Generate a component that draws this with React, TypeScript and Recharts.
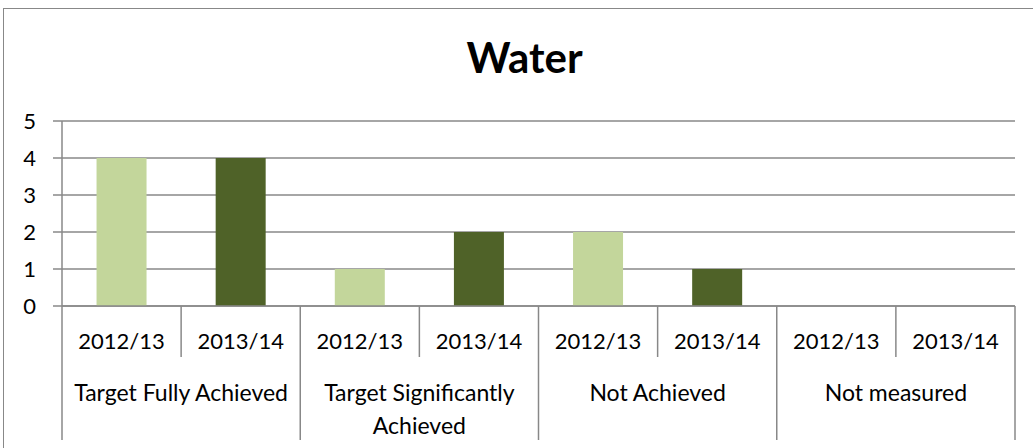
import { Bar, BarChart, CartesianGrid, Cell, XAxis, YAxis } from "recharts";

// group labels as the lines they are drawn in
const GROUP_LINES = [
  ["Target Fully Achieved"],
  ["Target Significantly", "Achieved"],
  ["Not Achieved"],
  ["Not measured"],
];
const YEARS = ["2012/13", "2013/14"];
const VALUES_2012 = [4, 1, 2, 0];
const VALUES_2013 = [4, 2, 1, 0];
const Y_TICKS = [0, 1, 2, 3, 4, 5];

const YEAR_COLORS = ["#c3d69b", "#4f6228"];
const AXIS_GREY = "#888888";
const FONT = "Lato, 'Open Sans', sans-serif";

const W = 1033;
const H = 448;
const MARGIN = { top: 121, right: 18, bottom: 0, left: 0 };
const Y_AXIS_W = 62;
const X_AXIS_H = 142;

const data = GROUP_LINES.flatMap((lines, g) =>
  YEARS.map((year, y) => ({
    id: g * 2 + y,
    lines,
    year,
    value: y === 0 ? VALUES_2012[g] : VALUES_2013[g],
  }))
);

const BAND = (W - MARGIN.left - MARGIN.right - Y_AXIS_W) / data.length;

// two-row category axis: year under each bar, group label under each pair
function CategoryTick(props: any) {
  const { x, y, index } = props;
  const row = data[index];
  if (!row) return null;
  const left = x - BAND / 2;
  const groupStart = index % 2 === 0;
  const isLast = index === data.length - 1;
  return (
    <g>
      <line
        x1={left}
        x2={left}
        y1={y}
        y2={y + (groupStart ? 134 : 51)}
        stroke={AXIS_GREY}
        strokeWidth={1.5}
      />
      {isLast && (
        <line
          x1={x + BAND / 2}
          x2={x + BAND / 2}
          y1={y}
          y2={y + 134}
          stroke={AXIS_GREY}
          strokeWidth={1.5}
        />
      )}
      <text
        x={x}
        y={y + 34}
        textAnchor="middle"
        dominantBaseline="central"
        fontSize={22}
        fontFamily={FONT}
        fill="#000"
      >
        {row.year}
      </text>
      {groupStart &&
        row.lines.map((line, i) => (
          <text
            key={i}
            x={x + BAND / 2}
            y={y + 86 + i * 33}
            textAnchor="middle"
            dominantBaseline="central"
            fontSize={23}
            fontFamily={FONT}
            fill="#000"
          >
            {line}
          </text>
        ))}
    </g>
  );
}

export default function App() {
  return (
    <div
      style={{
        position: "absolute",
        left: 0,
        top: 0,
        width: W,
        height: H,
        overflow: "hidden",
        background: "#fff",
      }}
    >
      <div
        style={{
          position: "absolute",
          left: 3,
          top: 8,
          width: W + 10,
          height: H + 10,
          border: `1px solid ${AXIS_GREY}`,
        }}
      />
      <div
        style={{
          position: "absolute",
          left: 0,
          width: W + 16,
          top: 32,
          textAlign: "center",
          fontFamily: FONT,
          fontWeight: 700,
          fontSize: 42,
          lineHeight: "50px",
        }}
      >
        Water
      </div>
      <BarChart
        width={W}
        height={H}
        data={data}
        margin={MARGIN}
        barCategoryGap="29%"
        style={{ position: "absolute", left: 0, top: 0 }}
      >
        <CartesianGrid
          vertical={false}
          stroke={AXIS_GREY}
          strokeWidth={1.5}
        />
        <XAxis
          dataKey="id"
          height={X_AXIS_H}
          tickLine={false}
          tickSize={0}
          tickMargin={0}
          axisLine={{ stroke: AXIS_GREY, strokeWidth: 1.5 }}
          interval={0}
          tick={<CategoryTick />}
        />
        <YAxis
          width={Y_AXIS_W}
          domain={[0, 5]}
          ticks={Y_TICKS}
          tickSize={9}
          tickMargin={17}
          axisLine={{ stroke: AXIS_GREY, strokeWidth: 1.5 }}
          tickLine={{ stroke: AXIS_GREY, strokeWidth: 1.5 }}
          tick={{ fill: "#000", fontSize: 22, fontFamily: FONT }}
        />
        <Bar dataKey="value" isAnimationActive={false}>
          {data.map((d, i) => (
            <Cell key={i} fill={YEAR_COLORS[i % 2]} />
          ))}
        </Bar>
      </BarChart>
    </div>
  );
}
